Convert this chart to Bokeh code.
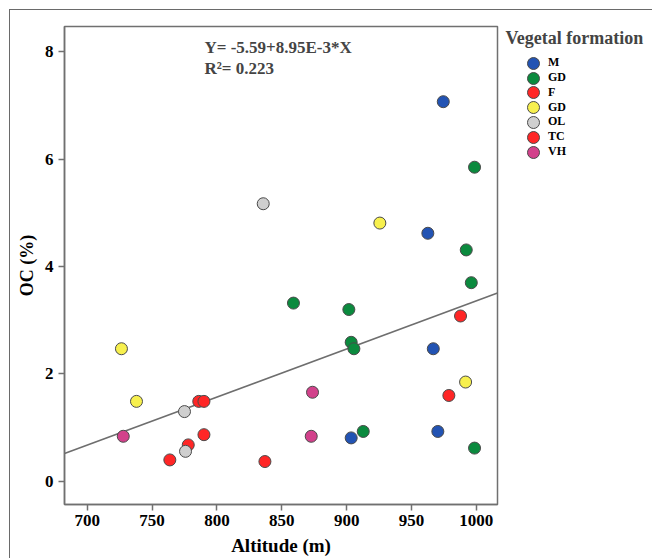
from bokeh.plotting import figure
from bokeh.layouts import row
from bokeh.models import Legend, LegendItem, Label, Range1d, FixedTicker
from bokeh.embed import file_html
from bokeh.resources import INLINE

# ---- data ----
group_labels = ["M", "GD", "F", "GD", "OL", "TC", "VH"]
group_colors = ["#2253b3", "#0b8a3e", "#ff2626", "#f7f04e", "#cfcfcf", "#ff2626", "#d2418b"]

m_x = [974.5, 962.6, 966.8, 903.5, 970.3]
m_y = [7.07, 4.62, 2.47, 0.81, 0.93]
gd_x = [998.6, 992.2, 996.1, 859.0, 901.7, 903.5, 905.6, 912.8, 998.6]
gd_y = [5.85, 4.31, 3.70, 3.32, 3.20, 2.59, 2.47, 0.93, 0.62]
f_x = [786.0, 790.0, 790.0, 777.9, 763.7, 837.0]
f_y = [1.49, 1.49, 0.87, 0.68, 0.40, 0.37]
gd2_x = [726.4, 738.0, 925.6, 991.7]
gd2_y = [2.47, 1.49, 4.81, 1.85]
ol_x = [835.7, 775.0, 775.8]
ol_y = [5.17, 1.30, 0.56]
tc_x = [987.8, 978.8]
tc_y = [3.08, 1.60]
vh_x = [727.8, 873.7, 872.7]
vh_y = [0.84, 1.66, 0.84]

series_x = [m_x, gd_x, f_x, gd2_x, ol_x, tc_x, vh_x]
series_y = [m_y, gd_y, f_y, gd2_y, ol_y, tc_y, vh_y]

intercept = -5.59
slope = 8.95e-3
x_ticks = [700, 750, 800, 850, 900, 950, 1000]
y_ticks = [0, 2, 4, 6, 8]
x_lo, x_hi = 682.5, 1016.3
y_lo, y_hi = -0.43, 8.47

SERIF = "Liberation Serif"
H = 548
FB = 494  # frame bottom inside the (row-aligned) legend panel

# ---------------- main scatter plot ----------------
p = figure(width=490, height=H, output_backend="svg", toolbar_location=None,
           x_range=Range1d(x_lo, x_hi), y_range=Range1d(y_lo, y_hi),
           min_border_left=54, min_border_right=3, min_border_top=16, min_border_bottom=54)
p.xgrid.visible = False
p.ygrid.visible = False
p.outline_line_color = "#707070"
p.outline_line_width = 1.5
p.background_fill_color = "white"
p.border_fill_color = "white"

for ax in (p.xaxis[0], p.yaxis[0]):
    ax.axis_line_color = "#707070"
    ax.axis_line_width = 1.5
    ax.major_tick_line_color = "#707070"
    ax.major_tick_line_width = 1.5
    ax.major_tick_out = 6
    ax.major_tick_in = 0
    ax.minor_tick_line_color = None
    ax.major_label_text_font = SERIF
    ax.major_label_text_font_style = "bold"
    ax.major_label_text_font_size = "17px"
    ax.major_label_text_color = "black"
    ax.axis_label_text_font = SERIF
    ax.axis_label_text_font_style = "bold"
    ax.axis_label_text_color = "black"

p.xaxis.ticker = FixedTicker(ticks=x_ticks)
p.yaxis.ticker = FixedTicker(ticks=y_ticks)
p.xaxis.axis_label = "Altitude (m)"
p.yaxis.axis_label = "OC (%)"
p.xaxis.axis_label_text_font_size = "19px"
p.yaxis.axis_label_text_font_size = "18px"
p.xaxis.major_label_standoff = 4
p.yaxis.major_label_standoff = 5
p.xaxis.axis_label_standoff = 6
p.yaxis.axis_label_standoff = 5

# regression line across the axis range
line_x = [x_lo, x_hi]
line_y = [intercept + slope * v for v in line_x]
p.line(line_x, line_y, line_color="#6e6e6e", line_width=1.6)

for col, xs, ys in zip(group_colors, series_x, series_y):
    p.scatter(xs, ys, size=12, marker="circle", fill_color=col,
              line_color="#4a4a4a", line_width=1)

eq1 = Label(x=790.4, y=8.08, text="Y= -5.59+8.95E-3*X", text_font=SERIF,
            text_font_style="bold", text_font_size="17px", text_baseline="middle")
eq2 = Label(x=790.4, y=7.69, text="R²= 0.223", text_font=SERIF,
            text_font_style="bold", text_font_size="17px", text_baseline="middle")
p.add_layout(eq1)
p.add_layout(eq2)

# ---------------- legend panel ----------------
lp = figure(width=152, height=H, output_backend="svg", toolbar_location=None,
            x_range=Range1d(0, 1), y_range=Range1d(0, 1),
            x_axis_type=None, y_axis_type=None, min_border=0)
lp.xgrid.visible = False
lp.ygrid.visible = False
lp.outline_line_color = None
lp.background_fill_color = "white"
lp.border_fill_color = "white"

for i, (lab, col, xs, ys) in enumerate(zip(group_labels, group_colors, series_x, series_y)):
    # same series, out of this panel's view: only used to draw the legend swatch
    r = lp.scatter(xs, ys, size=12, marker="circle", fill_color=col,
                   line_color="#4a4a4a", line_width=1)
    lg = Legend(items=[LegendItem(label=lab, renderers=[r])],
                location=(18, FB - 30 - 37.7 - 14.8 * i),
                label_text_font=SERIF, label_text_font_style="bold",
                label_text_font_size="12px", label_text_color="black",
                glyph_width=30, glyph_height=30, label_standoff=-1, spacing=0,
                padding=0, margin=0, border_line_color=None,
                background_fill_alpha=0)
    lp.add_layout(lg)

legend_title = Label(x=5, y=FB - 27, x_units="screen", y_units="screen",
                     text="Vegetal formation", text_font=SERIF,
                     text_font_style="bold", text_font_size="18px",
                     text_baseline="alphabetic")
lp.add_layout(legend_title)

layout = row(p, lp, spacing=0)
layout.styles = {"border-left": "1px solid #6a6a6a", "border-top": "1px solid #6a6a6a",
                 "margin-left": "9px", "margin-top": "9px"}

open("out.html", "w").write(file_html(layout, INLINE))
